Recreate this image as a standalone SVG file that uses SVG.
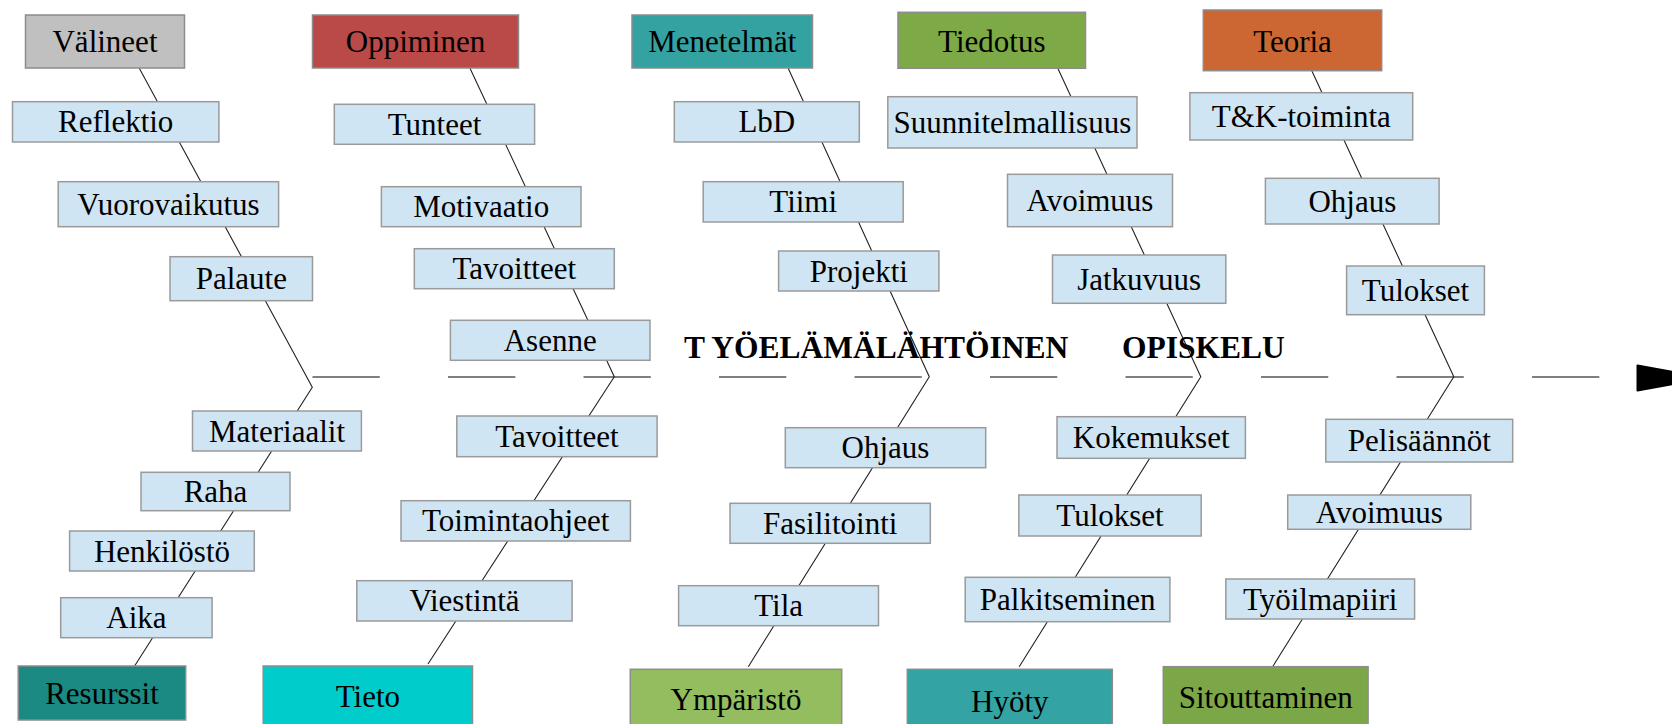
<svg xmlns="http://www.w3.org/2000/svg" width="1672" height="724" viewBox="0 0 1672 724">
<style>
text{font-family:"Liberation Serif","Times New Roman",serif;font-size:31px;fill:#000;text-anchor:middle}
.sub rect{fill:#cfe5f3;stroke:#9a9a9a;stroke-width:1.5}
.cat rect{stroke:#8c8c8c;stroke-width:1.5}
.bone{stroke:#222;stroke-width:1.1;fill:none}
.title{font-weight:bold;font-size:31.5px;text-anchor:start}
</style>
<rect width="1672" height="724" fill="#fff"/>
<g id="connectors">
<line class="bone" x1="312.5" y1="377" x2="1600" y2="377" stroke="#555" style="stroke:#555;stroke-width:1.5;stroke-dasharray:67.3 68.2"/>
<polygon points="1637.5,365.5 1705,378 1637.5,390.5" fill="#000" stroke="#000" stroke-width="2" stroke-linejoin="round"/>
<polyline class="bone" points="139.3,68.3 312.3,387.3 134.6,666"/>
<polyline class="bone" points="470,68.3 614.3,376.7 428,664"/>
<polyline class="bone" points="788.2,68.3 929.3,376.7 748.3,666.7"/>
<polyline class="bone" points="1057.8,68.3 1200.8,376.7 1019.2,666.7"/>
<polyline class="bone" points="1311.8,70.7 1453.8,376.7 1272.6,666.7"/>
</g>
<g id="title">
<text class="title" x="684" y="358">T YÖELÄMÄLÄHTÖINEN</text>
<text class="title" x="1122" y="357.5">OPISKELU</text>
</g>
<g id="valineet" class="cat"><rect x="25.5" y="15" width="159" height="53" fill="#c0c0c0"/><text x="105" y="52">Välineet</text></g>
<g id="oppiminen" class="cat"><rect x="312.5" y="15" width="206" height="53" fill="#b94a48"/><text x="415.5" y="52">Oppiminen</text></g>
<g id="menetelmat" class="cat"><rect x="632" y="15" width="180.5" height="53" fill="#35a2a2"/><text x="722.3" y="52">Menetelmät</text></g>
<g id="tiedotus" class="cat"><rect x="898" y="12.3" width="187.5" height="56" fill="#7da946"/><text x="991.8" y="51.5">Tiedotus</text></g>
<g id="teoria" class="cat"><rect x="1203.3" y="10" width="178.4" height="60.7" fill="#cc6633"/><text x="1292.5" y="51.5">Teoria</text></g>
<g id="reflektio" class="sub"><rect x="12.5" y="101.7" width="206.4" height="40.3"/><text x="115.7" y="132.4">Reflektio</text></g>
<g id="vuorovaikutus" class="sub"><rect x="58.2" y="181.7" width="220.4" height="45"/><text x="168.4" y="214.7">Vuorovaikutus</text></g>
<g id="palaute" class="sub"><rect x="170" y="256.7" width="142.5" height="44"/><text x="241.3" y="289.2">Palaute</text></g>
<g id="tunteet" class="sub"><rect x="334.3" y="104.3" width="200.3" height="40"/><text x="434.5" y="134.8">Tunteet</text></g>
<g id="motivaatio" class="sub"><rect x="381.4" y="186.7" width="199.6" height="40"/><text x="481.2" y="217.2">Motivaatio</text></g>
<g id="tavoitteet1" class="sub"><rect x="414.3" y="248.7" width="200" height="40"/><text x="514.3" y="279.2">Tavoitteet</text></g>
<g id="asenne" class="sub"><rect x="450.4" y="320.3" width="199.6" height="40"/><text x="550.2" y="350.8">Asenne</text></g>
<g id="lbd" class="sub"><rect x="674.3" y="101.7" width="185" height="40.3"/><text x="766.8" y="132.4">LbD</text></g>
<g id="tiimi" class="sub"><rect x="703.2" y="181.7" width="200" height="40.3"/><text x="803.2" y="212.4">Tiimi</text></g>
<g id="projekti" class="sub"><rect x="778.6" y="251" width="160.3" height="40"/><text x="858.8" y="281.5">Projekti</text></g>
<g id="suunnitelmallisuus" class="sub"><rect x="887.8" y="96.7" width="249.2" height="51.3"/><text x="1012.4" y="132.9">Suunnitelmallisuus</text></g>
<g id="avoimuus1" class="sub"><rect x="1007.5" y="174.3" width="165" height="52.4"/><text x="1090" y="211">Avoimuus</text></g>
<g id="jatkuvuus" class="sub"><rect x="1052.5" y="255" width="173.3" height="48.3"/><text x="1139.2" y="289.7">Jatkuvuus</text></g>
<g id="tk-toiminta" class="sub"><rect x="1189.9" y="92.7" width="222.8" height="47.3"/><text x="1301.3" y="127.4">T&amp;K-toiminta</text></g>
<g id="ohjaus1" class="sub"><rect x="1265.4" y="178.3" width="173.7" height="45.7"/><text x="1352.3" y="211.7">Ohjaus</text></g>
<g id="tulokset1" class="sub"><rect x="1346.6" y="266" width="137.8" height="48.7"/><text x="1415.5" y="301">Tulokset</text></g>
<g id="resurssit" class="cat"><rect x="18.2" y="666" width="167.5" height="54" fill="#1a8a83"/><text x="102" y="703.5">Resurssit</text></g>
<g id="tieto" class="cat"><rect x="263.2" y="666" width="209.3" height="65" fill="#00cccc"/><text x="367.9" y="706.7">Tieto</text></g>
<g id="ymparisto" class="cat"><rect x="630.3" y="669.3" width="211.4" height="65" fill="#93bd5e"/><text x="736" y="710">Ympäristö</text></g>
<g id="hyoty" class="cat"><rect x="907.3" y="669.3" width="205" height="70" fill="#33a3a3"/><text x="1009.8" y="711.7">Hyöty</text></g>
<g id="sitouttaminen" class="cat"><rect x="1163.3" y="666.7" width="204.8" height="65" fill="#7ca748"/><text x="1265.7" y="708.3">Sitouttaminen</text></g>
<g id="materiaalit" class="sub"><rect x="192.5" y="411" width="168.9" height="40"/><text x="277" y="441.5">Materiaalit</text></g>
<g id="raha" class="sub"><rect x="141" y="472.3" width="149" height="38.4"/><text x="215.5" y="502">Raha</text></g>
<g id="henkilosto" class="sub"><rect x="69.6" y="531" width="184.7" height="40"/><text x="162" y="561.5">Henkilöstö</text></g>
<g id="aika" class="sub"><rect x="60.7" y="597.7" width="151.4" height="40"/><text x="136.4" y="628.2">Aika</text></g>
<g id="tavoitteet2" class="sub"><rect x="456.8" y="416" width="200.3" height="40.7"/><text x="557" y="446.9">Tavoitteet</text></g>
<g id="toimintaohjeet" class="sub"><rect x="401" y="500.7" width="229.4" height="40.3"/><text x="515.7" y="531.4">Toimintaohjeet</text></g>
<g id="viestinta" class="sub"><rect x="356.8" y="580.7" width="215.3" height="40.3"/><text x="464.5" y="611.4">Viestintä</text></g>
<g id="ohjaus2" class="sub"><rect x="785.3" y="427.7" width="200.4" height="40"/><text x="885.5" y="458.2">Ohjaus</text></g>
<g id="fasilitointi" class="sub"><rect x="730" y="503.3" width="200.3" height="40"/><text x="830.2" y="533.8">Fasilitointi</text></g>
<g id="tila" class="sub"><rect x="678.6" y="585.7" width="199.9" height="40"/><text x="778.6" y="616.2">Tila</text></g>
<g id="kokemukset" class="sub"><rect x="1057" y="416.7" width="188.4" height="41.6"/><text x="1151.2" y="448">Kokemukset</text></g>
<g id="tulokset2" class="sub"><rect x="1018.8" y="495" width="182.4" height="41"/><text x="1110" y="526">Tulokset</text></g>
<g id="palkitseminen" class="sub"><rect x="965.2" y="577.3" width="204.7" height="44.4"/><text x="1067.6" y="610">Palkitseminen</text></g>
<g id="pelisaannot" class="sub"><rect x="1325.8" y="419.3" width="186.9" height="42.7"/><text x="1419.3" y="451">Pelisäännöt</text></g>
<g id="avoimuus2" class="sub"><rect x="1287.7" y="495" width="183.1" height="34.3"/><text x="1379.3" y="523">Avoimuus</text></g>
<g id="tyoilmapiiri" class="sub"><rect x="1225.8" y="579" width="188.8" height="40"/><text x="1320.2" y="609.5">Työilmapiiri</text></g>
</svg>
